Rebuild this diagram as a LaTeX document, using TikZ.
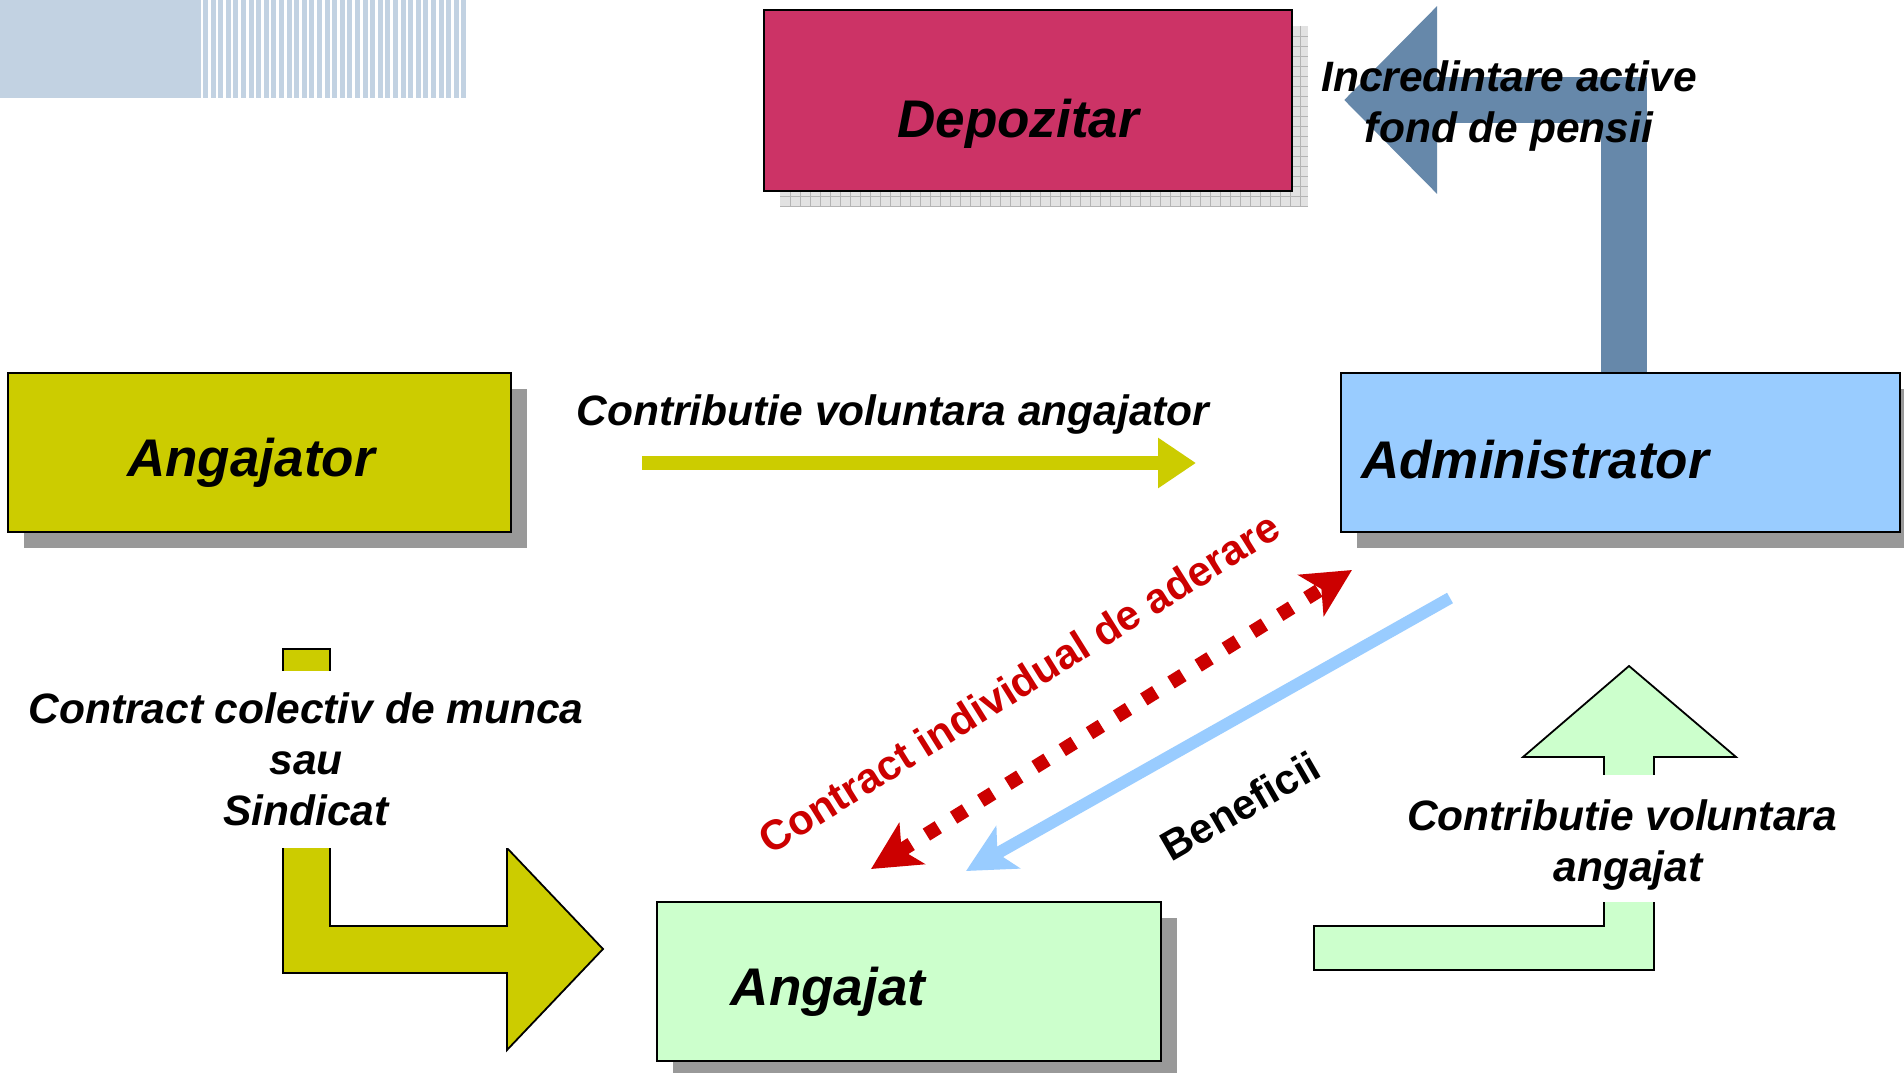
\documentclass[tikz,border=0pt]{standalone}
\usepackage{fontspec}
\setmainfont{Liberation Sans}
\usetikzlibrary{arrows.meta}
\definecolor{depc}{HTML}{CC3366}
\definecolor{yelc}{HTML}{CCCC00}
\definecolor{admc}{HTML}{99CCFF}
\definecolor{angc}{HTML}{CCFFCC}
\definecolor{slatec}{HTML}{6688AA}
\definecolor{redc}{HTML}{CC0000}
\definecolor{decoc}{HTML}{C2D2E2}
\definecolor{shadc}{HTML}{999999}
\definecolor{gridbg}{HTML}{E2E2E2}
\definecolor{gridln}{HTML}{B4B4B4}
\tikzset{bigstealth/.tip={Stealth[length=48pt,width=48pt,inset=12pt]}}
\begin{document}
\begin{tikzpicture}[x=1pt,y=-1pt,
  box/.style={draw=black, line width=2pt, rectangle, inner sep=0pt},
  boxlabel/.style={font=\fontsize{53}{60}\selectfont\bfseries\itshape, inner sep=0pt},
  lab/.style={font=\fontsize{42.5}{51}\selectfont\bfseries\itshape, inner sep=0pt, align=center},
  uplab/.style={font=\fontsize{42}{51}\selectfont\bfseries, inner sep=0pt},
  shape outline/.style={draw=black, line width=1.8pt, line join=miter}
]
\useasboundingbox (0,0) rectangle (1904,1073);
\fill[white] (0,0) rectangle (1904,1073);

% top-left decoration
\fill[decoc] (0,0) rectangle (201,98);
\foreach \i in {0,...,34} \fill[decoc] ({203+\i*7.6},0) rectangle ++(5,98);

% shadows
\fill[gridbg] (780,26) rectangle (1308,207);
\foreach \gx in {790,800,...,1300} \draw[gridln, line width=0.6pt] (\gx,26) -- (\gx,207);
\foreach \gy in {36,46,...,206} \draw[gridln, line width=0.6pt] (780,\gy) -- (1308,\gy);
\fill[shadc] (24,389) rectangle (527,548);
\fill[shadc] (1357,389) rectangle (1916,548);
\fill[shadc] (673,918) rectangle (1177,1077);

% boxes
\node[box, fill=depc, minimum width=528pt, minimum height=181pt] (dep) at (1028,100.5) {};
\node[box, fill=yelc, minimum width=503pt, minimum height=159pt] (angajator) at (259.5,452.5) {};
\node[box, fill=admc, minimum width=559pt, minimum height=159pt] (admin) at (1620.5,452.5) {};
\node[box, fill=angc, minimum width=504pt, minimum height=159pt] (angajat) at (909,981.5) {};

\node[boxlabel] (deplab) at (1018,124) {Depozitar};
\node[boxlabel] (anglab) at (251,463) {Angajator};
\node[boxlabel] (admlab) at (1535,460) {Administrator};
\node[boxlabel] (angtlab) at (828,992) {Angajat};

% dark arrow administrator -> depozitar
\draw[slatec, line width=46pt, line join=miter, -{Triangle[length=93pt,width=182pt]}]
  ([xshift=3.5pt]admin.north) -- ([xshift=3.5pt]admin.north |- 0,100) -- (1344,100);
\node[lab] (inctext) at (1509,106) {Incredintare active\\fond de pensii};

% yellow arrow angajator -> administrator
\coordinate (ya1) at (642,463);
\coordinate (ya2) at (1196,463);
\draw[yelc, line width=14pt, -{Triangle[length=38pt,width=48pt]}] (ya1) -- (ya2);
\node[lab] (cva) at (893,415) {Contributie voluntara angajator};

% left bent arrow
\draw[shape outline, fill=yelc] (283,649) -- (283,973) -- (507,973) -- (507,1050) -- (603,949)
  -- (507,848) -- (507,926) -- (330,926) -- (330,649) -- cycle;
\node[lab, fill=white, minimum height=177pt, inner xsep=4pt] (ccm) at (306,759.5)
  {Contract colectiv de munca\\sau\\Sindicat};

% right bent arrow
\draw[shape outline, fill=angc] (1314,970) -- (1654,970) -- (1654,757) -- (1736,757) -- (1629,666)
  -- (1523,757) -- (1604,757) -- (1604,926) -- (1314,926) -- cycle;
\fill[white] (1590,775) rectangle (1670,902);
\node[lab, inner xsep=4pt] (cvang) at (1622,845)
  {Contributie voluntara\\\hspace*{12pt}angajat};

% red dotted double arrow
\coordinate (r1) at (871,869);
\coordinate (r2) at (1352,570);
\draw[redc, line width=14pt, dash pattern=on 14pt off 18pt, bigstealth-bigstealth] (r1) -- (r2);
\node[uplab, text=redc, rotate=32] (cia) at (1019,683) {Contract individual de aderare};

% blue arrow benefits
\coordinate (b1) at (1450,598);
\coordinate (b2) at (966,871);
\draw[admc, line width=12pt, -bigstealth] (b1) -- (b2);
\node[uplab, rotate=30] (ben) at (1240,806) {Beneficii};
\end{tikzpicture}
\end{document}
